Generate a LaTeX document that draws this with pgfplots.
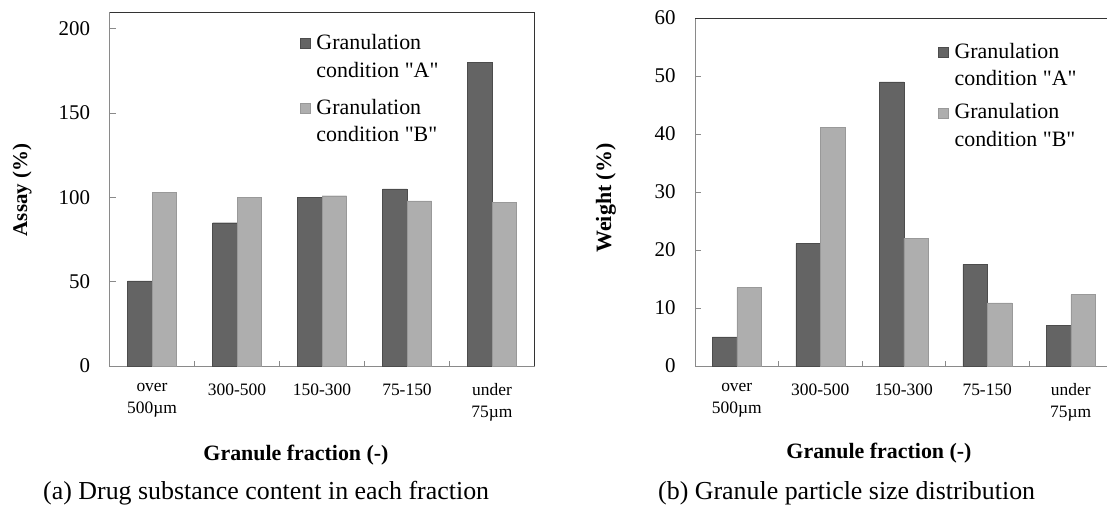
\documentclass[border=0pt]{standalone}
\usepackage{pgfplots}
\pgfplotsset{compat=1.18}
\usepackage{fontspec}
\setmainfont{Liberation Serif}[Ligatures=TeXOff]
\definecolor{barA}{HTML}{646464}
\definecolor{barB}{HTML}{AEAEAE}
\definecolor{axgray}{HTML}{8A8A8A}

\pgfplotsset{
  mybars/.style={
    scale only axis,
    ybar=0pt, bar width=24.5bp,
    xmin=-0.5, xmax=4.5, ymin=0,
    xtick={0,1,2,3,4},
    xticklabels={{over\\500µm},300-500,150-300,75-150,{under\\75µm}},
    minor xtick={0.5,1.5,2.5,3.5},
    xtick pos=bottom, ytick pos=left,
    tick align=inside,
    major x tick style={draw=none},
    minor tick length=5bp, major tick length=6bp,
    every tick/.style={axgray, line width=0.8bp},
    axis line style={axgray, line width=0.8bp},
    xticklabel style={align=center, font=\fontsize{17.5}{22}\selectfont, yshift=-14bp},
    yticklabel style={font=\fontsize{21}{25}\selectfont, xshift=-16bp},
    /pgf/number format/assume math mode=true,
    legend style={draw=none, fill=none, inner sep=0pt,
      font=\fontsize{22}{28}\selectfont, cells={anchor=west},
      nodes={align=left, inner sep=2bp}, legend columns=1},
    legend image code/.code={\fill[##1] (0bp,8bp) rectangle (10bp,18bp); \path (14bp,13bp);},
    clip=false,
  }
}

\begin{document}
\begin{tikzpicture}
\useasboundingbox (0,0) rectangle (1107bp,513bp);

\begin{axis}[mybars, at={(109.5bp,147bp)}, anchor=south west,
  width=425bp, height=354bp, ymax=210, ytick={0,50,...,200},
  legend style={at={(0.448,0.9435)}, anchor=north west, row sep=16bp}]
\addplot[fill=barA, draw=black!70] coordinates {(0,50.5) (1,85) (2,100) (3,105) (4,180)};
\addlegendentry{Granulation\\condition "A"}
\addplot[fill=barB, draw=black!40] coordinates {(0,103) (1,100) (2,101) (3,98) (4,97)};
\addlegendentry{Granulation\\condition "B"}
\draw[black!80, line width=0.8bp] (rel axis cs:0,1) -- (rel axis cs:1,1) -- (rel axis cs:1,0);
\end{axis}

\begin{axis}[mybars, at={(695bp,147bp)}, anchor=south west,
  width=417.5bp, height=348bp, ymax=60, ytick={0,10,...,60},
  legend style={at={(0.582,0.935)}, anchor=north west, row sep=12bp}]
\addplot[fill=barA, draw=black!70] coordinates {(0,5) (1,21.1) (2,49) (3,17.5) (4,7)};
\addlegendentry{Granulation\\condition "A"}
\addplot[fill=barB, draw=black!40] coordinates {(0,13.5) (1,41.2) (2,22) (3,10.9) (4,12.3)};
\addlegendentry{Granulation\\condition "B"}
\draw[black!80, line width=0.8bp] (rel axis cs:0,1) -- (rel axis cs:1,1) -- (rel axis cs:1,0);
\end{axis}

\node[font=\bfseries\fontsize{21}{25}\selectfont, rotate=90] at (22bp,323bp) {Assay (\%)};
\node[font=\bfseries\fontsize{22}{26}\selectfont, rotate=90] at (606bp,315bp) {Weight (\%)};
\node[font=\bfseries\fontsize{22}{26}\selectfont] at (296bp,58bp) {Granule fraction (-)};
\node[font=\bfseries\fontsize{22}{26}\selectfont] at (879bp,60bp) {Granule fraction (-)};
\node[font=\fontsize{26}{30}\selectfont, anchor=west, inner sep=0pt] at (43bp,20bp) {(a) Drug substance content in each fraction};
\node[font=\fontsize{26}{30}\selectfont, anchor=west, inner sep=0pt] at (658bp,20bp) {(b) Granule particle size distribution};
\end{tikzpicture}
\end{document}
